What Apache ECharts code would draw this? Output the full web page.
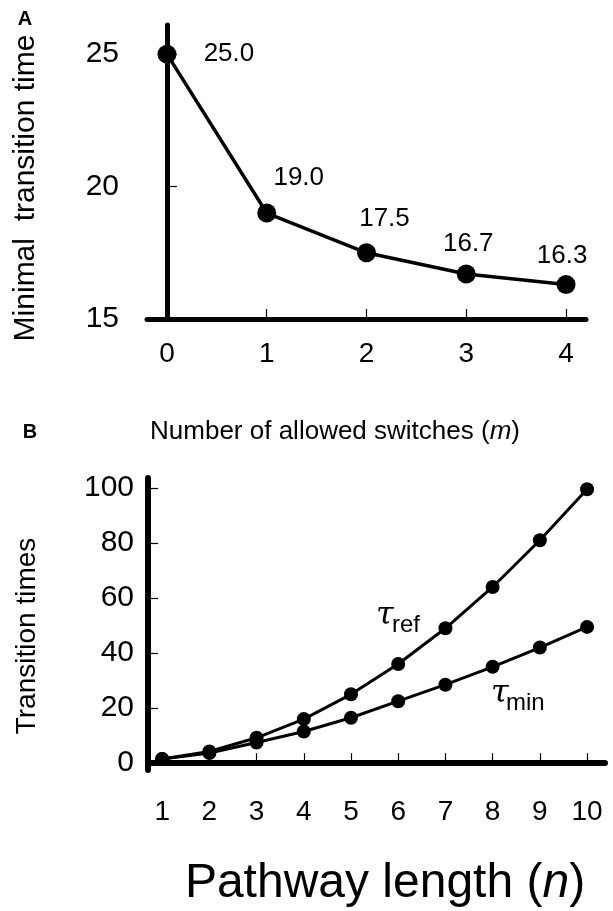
<!DOCTYPE html>
<html>
<head>
<meta charset="utf-8">
<script src="https://cdn.jsdelivr.net/npm/echarts@6/dist/echarts.min.js"></script>
<style>
html,body{margin:0;padding:0;background:#fff;}
#chart{width:613px;height:911px;}
</style>
</head>
<body>
<div id="chart"></div>
<script>
// Panel A data
const switchesM = [0, 1, 2, 3, 4];
const minimalTime = [25.0, 19.0, 17.5, 16.7, 16.3];
const aYTicks = [15, 20, 25];

// Panel B data
const pathwayN = [1, 2, 3, 4, 5, 6, 7, 8, 9, 10];
const tauRef = [1.5, 4.2, 9.2, 16, 25, 36, 49, 64, 81, 99.5];
const tauMin = [1.5, 3.7, 7.5, 11.5, 16.5, 22.5, 28.5, 35, 42, 49.5];
const bYTicks = [0, 20, 40, 60, 80, 100];

const FONT = "'Liberation Sans', Arial, Helvetica, sans-serif";
const chart = echarts.init(document.getElementById('chart'), null, {renderer: 'canvas'});

// label placement style for panel A (offsets in px, relative to each marker)
const aLabelOffsets = [[62, 0], [32, -35], [18, -34], [2, -30], [-4, -29]];

const option = {
  backgroundColor: '#fff',
  animation: false,
  grid: [
    {left: 147, top: 25, right: 27, height: 294},
    {left: 148, top: 478, right: 8, bottom: 141}
  ],
  xAxis: [
    {
      gridIndex: 0, type: 'value', min: -0.2, max: 4.2,
      axisLine: {show: true, lineStyle: {color: '#000', width: 5}},
      axisTick: {show: true, inside: true, length: 10, lineStyle: {color: '#000', width: 1.2}, customValues: switchesM},
      axisLabel: {show: true, customValues: switchesM, color: '#000', fontSize: 28, fontFamily: FONT, margin: 21},
      splitLine: {show: false}
    },
    {
      gridIndex: 1, type: 'value', min: 0.7, max: 10.38,
      axisLine: {show: true, lineStyle: {color: '#000', width: 6}},
      axisTick: {show: true, inside: true, length: 10, lineStyle: {color: '#000', width: 1.2}, customValues: pathwayN},
      axisLabel: {show: true, customValues: pathwayN, color: '#000', fontSize: 28, fontFamily: FONT, margin: 28},
      splitLine: {show: false}
    }
  ],
  yAxis: [
    {
      gridIndex: 0, type: 'value', min: 15, max: 26.1,
      axisLine: {show: true, lineStyle: {color: '#000', width: 5}},
      axisTick: {show: true, inside: true, length: 10, lineStyle: {color: '#000', width: 1.2}, customValues: aYTicks},
      axisLabel: {show: true, customValues: aYTicks, color: '#000', fontSize: 30, fontFamily: FONT, margin: 28},
      splitLine: {show: false}
    },
    {
      gridIndex: 1, type: 'value', min: -2.5, max: 103.6,
      axisLine: {show: true, lineStyle: {color: '#000', width: 6}},
      axisTick: {show: true, inside: true, length: 10, lineStyle: {color: '#000', width: 1.2}, customValues: bYTicks},
      axisLabel: {show: true, customValues: bYTicks, color: '#000', fontSize: 30, fontFamily: FONT, margin: 14},
      splitLine: {show: false}
    }
  ],
  series: [
    {
      type: 'line', xAxisIndex: 0, yAxisIndex: 0,
      data: switchesM.map((m, i) => ({
        value: [m, minimalTime[i]],
        label: {offset: aLabelOffsets[i]}
      })),
      symbol: 'circle', symbolSize: 19,
      itemStyle: {color: '#000'},
      lineStyle: {color: '#000', width: 3.5},
      label: {
        show: true, position: 'inside', align: 'center', verticalAlign: 'middle',
        color: '#000', fontSize: 26, fontFamily: FONT,
        formatter: p => p.value[1].toFixed(1)
      },
      z: 3
    },
    {
      type: 'line', xAxisIndex: 1, yAxisIndex: 1,
      data: pathwayN.map((n, i) => [n, tauRef[i]]),
      symbol: 'circle', symbolSize: 14,
      itemStyle: {color: '#000'},
      lineStyle: {color: '#000', width: 3}
    },
    {
      type: 'line', xAxisIndex: 1, yAxisIndex: 1,
      data: pathwayN.map((n, i) => [n, tauMin[i]]),
      symbol: 'circle', symbolSize: 14,
      itemStyle: {color: '#000'},
      lineStyle: {color: '#000', width: 3}
    }
  ],
  graphic: [
    {type: 'text', x: 25, y: 19, style: {text: 'A', font: 'bold 20px ' + FONT, fill: '#000', textAlign: 'center', textVerticalAlign: 'middle'}},
    {type: 'text', x: 26, y: 188, rotation: Math.PI / 2, style: {text: 'Minimal  transition time', font: '30px ' + FONT, fill: '#000', textAlign: 'center', textVerticalAlign: 'middle'}},
    {type: 'text', x: 30, y: 432, style: {text: 'B', font: 'bold 20px ' + FONT, fill: '#000', textAlign: 'center', textVerticalAlign: 'middle'}},
    {type: 'text', x: 335, y: 432, style: {
      text: '{n|Number of allowed switches (}{i|m}{n|)}',
      rich: {n: {fontSize: 26, fontFamily: FONT, fill: '#000'}, i: {fontSize: 26, fontFamily: FONT, fontStyle: 'italic', fill: '#000'}},
      textAlign: 'center', textVerticalAlign: 'middle'}},
    {type: 'text', x: 27, y: 636, rotation: Math.PI / 2, style: {text: 'Transition times', font: '28px ' + FONT, fill: '#000', textAlign: 'center', textVerticalAlign: 'middle'}},
    {type: 'text', x: 376, y: 616, style: {text: 'τ', font: 'italic 32px "DejaVu Serif", serif', fill: '#000', textAlign: 'left', textVerticalAlign: 'middle'}},
    {type: 'text', x: 392, y: 625, style: {text: 'ref', font: '24px ' + FONT, fill: '#000', textAlign: 'left', textVerticalAlign: 'middle'}},
    {type: 'text', x: 491, y: 694, style: {text: 'τ', font: 'italic 32px "DejaVu Serif", serif', fill: '#000', textAlign: 'left', textVerticalAlign: 'middle'}},
    {type: 'text', x: 506, y: 703, style: {text: 'min', font: '24px ' + FONT, fill: '#000', textAlign: 'left', textVerticalAlign: 'middle'}},
    {type: 'text', x: 385, y: 884, style: {
      text: '{n|Pathway length (}{i|n}{n|)}',
      rich: {n: {fontSize: 48, fontFamily: FONT, fill: '#000'}, i: {fontSize: 48, fontFamily: FONT, fontStyle: 'italic', fill: '#000'}},
      textAlign: 'center', textVerticalAlign: 'middle'}}
  ]
};
chart.setOption(option);
</script>
</body>
</html>
